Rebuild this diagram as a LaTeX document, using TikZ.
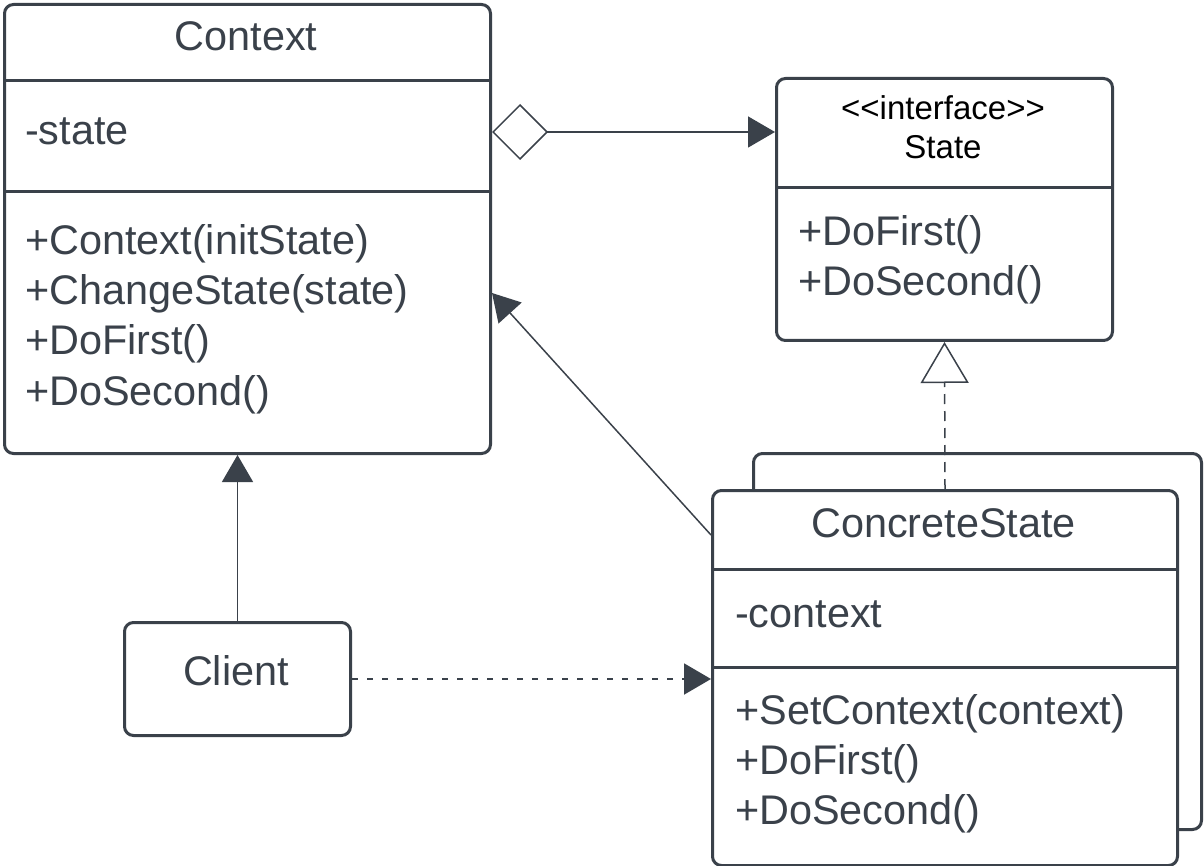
\documentclass[tikz,border=0pt]{standalone}
\usepackage{fontspec}
\setmainfont{Liberation Sans}
\usetikzlibrary{arrows.meta, positioning}
\definecolor{slate}{HTML}{3A414A}

\begin{document}
\begin{tikzpicture}[x=1pt, y=-1pt,
    classbox/.style={draw=slate, fill=white, line width=3pt, rounded corners=9pt, inner sep=0pt, anchor=north west},
    divider/.style={draw=slate, line width=3pt},
    member/.style={text=slate, anchor=base west, inner sep=0pt, font=\fontsize{41.4}{50}\selectfont},
    classname/.style={member, anchor=base},
    stereo/.style={text=black, anchor=base, inner sep=0pt, font=\fontsize{33}{40}\selectfont},
    link/.style={draw=slate, line width=1.5pt},
    assoc/.style={link, -{Triangle[length=27pt, width=31pt]}},
    depend/.style={assoc, line width=2pt, dash pattern=on 6pt off 9pt},
    realize/.style={link, dash pattern=on 10pt off 7pt, -{Triangle[open, fill=white, length=41pt, width=48pt]}},
    aggr/.style={link, {Diamond[open, length=56pt, width=56pt]}-{Triangle[length=27pt, width=31pt]}}]
      \useasboundingbox (0,0) rectangle (1204,866);

      % Context class
      \node[classbox, minimum width=486pt, minimum height=449pt] (context) at (3,3) {};
      \draw[divider] (context.west |- 0,81) -- (context.east |- 0,81);
      \draw[divider] (context.west |- 0,192) -- (context.east |- 0,192);
      \node[classname] (ctxname) at (246,51) {Context};
      \node[member] (ctxattr) at (25,145) {-state};
      \foreach \op [count=\i] in {+Context(initState), +ChangeState(state), +DoFirst(), +DoSecond()}
        \node[member] (ctxop\i) at (25,205+50*\i) {\op};

      % State interface
      \node[classbox, minimum width=336pt, minimum height=262pt] (state) at (775,77) {};
      \draw[divider] (state.west |- 0,188) -- (state.east |- 0,188);
      \node[stereo] (stereotype) at (943,120) {<\kern0pt<interface>\kern0pt>};
      \node[stereo] (statename) at (943,159) {State};
      \foreach \op [count=\i] in {+DoFirst(), +DoSecond()}
        \node[member] (stateop\i) at (798,196+50*\i) {\op};

      % ConcreteState, stacked
      \node[classbox, minimum width=448pt, minimum height=376pt] (concreteback) at (752,452) {};
      \node[classbox, minimum width=465pt, minimum height=375pt] (concrete) at (711,489) {};
      \draw[divider] (concrete.west |- 0,569) -- (concrete.east |- 0,569);
      \draw[divider] (concrete.west |- 0,667) -- (concrete.east |- 0,667);
      \node[classname] (concname) at (943.5,537) {ConcreteState};
      \node[member] (concattr) at (735,627) {-context};
      \foreach \op [count=\i] in {+SetContext(context), +DoFirst(), +DoSecond()}
        \node[member] (concop\i) at (735,674+50*\i) {\op};

      % Client
      \node[classbox, minimum width=226pt, minimum height=113pt] (client) at (123,621) {};
      \node[classname] (clientname) at (236,685) {Client};

      % relations
      \coordinate (aggrstart) at (context.east |- 0,132);
      \coordinate (diagstart) at (concrete.west |- 0,535);
      \coordinate (diagend) at (context.east |- 0,293);
      \draw[aggr] (aggrstart) -- (state.west |- aggrstart);
      \draw[realize] (concrete.north) -- (state.south);
      \draw[assoc] (client.north) -- (client.north |- context.south);
      \draw[depend] (client.east) -- (concrete.west |- client.east);
      \draw[assoc] (diagstart) -- (diagend);
\end{tikzpicture}
\end{document}
